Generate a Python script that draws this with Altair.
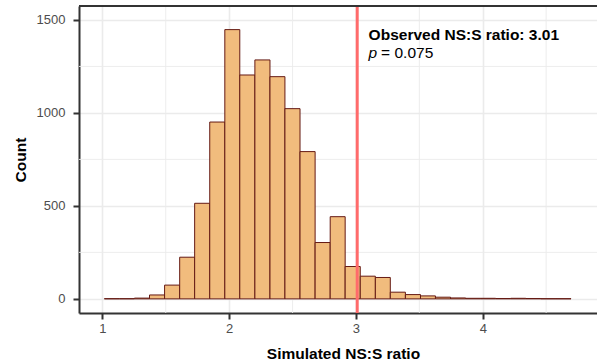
import altair as alt
import pandas as pd

# Histogram bins (edges) and counts
bin_left = [1.016, 1.135, 1.253, 1.372, 1.491, 1.610, 1.728, 1.847, 1.966, 2.084,
            2.203, 2.322, 2.440, 2.559, 2.678, 2.797, 2.915, 3.034, 3.153, 3.271,
            3.390, 3.509, 3.627, 3.746, 3.865, 3.984, 4.102, 4.221, 4.340, 4.458,
            4.577]
bin_right = [1.135, 1.253, 1.372, 1.491, 1.610, 1.728, 1.847, 1.966, 2.084, 2.203,
             2.322, 2.440, 2.559, 2.678, 2.797, 2.915, 3.034, 3.153, 3.271, 3.390,
             3.509, 3.627, 3.746, 3.865, 3.984, 4.102, 4.221, 4.340, 4.458, 4.577,
             4.696]
counts = [1, 1, 4, 21, 74, 224, 514, 951, 1448, 1204,
          1285, 1195, 1023, 792, 303, 442, 174, 122, 115, 36,
          23, 16, 9, 5, 3, 3, 2, 3, 2, 1,
          1]

observed = 3.01
p_value = "0.075"
x_ticks = [1, 2, 3, 4]
y_ticks = [0, 500, 1000, 1500]
x_minor = [1.5, 2.5, 3.5, 4.5]
y_minor = [250, 750, 1250]

W, H = 518, 307
FONT = "Liberation Sans"
x_scale = alt.Scale(domain=[0.816, 4.901], nice=False, zero=False)
y_scale = alt.Scale(domain=[-76, 1575], nice=False, zero=False)

hist = pd.DataFrame({"x": bin_left, "x2": bin_right, "y2": counts, "y": [0] * len(counts)})

x_axis = alt.Axis(values=x_ticks, format="d", title="Simulated NS:S ratio",
                  grid=True, gridColor="#EBEBEB", gridWidth=1.6,
                  domainColor="#333333", domainWidth=2,
                  tickColor="#333333", tickWidth=2, tickSize=6,
                  labelColor="#4D4D4D", labelFontSize=13, labelFont=FONT, labelPadding=3,
                  titleFont=FONT, titleFontSize=15.5, titleFontWeight="bold", titleColor="#000000",
                  titleX=264, titleY=45, titleBaseline="alphabetic", titleAnchor="middle")
y_axis = alt.Axis(values=y_ticks, format="d", title="Count",
                  grid=True, gridColor="#EBEBEB", gridWidth=1.6,
                  domainColor="#333333", domainWidth=2,
                  tickColor="#333333", tickWidth=2, tickSize=6,
                  labelColor="#4D4D4D", labelFontSize=13, labelFont=FONT, labelPadding=8,
                  titleFont=FONT, titleFontSize=15.5, titleFontWeight="bold", titleColor="#000000",
                  titleX=-59, titleY=H / 2, titleAngle=-90, titleAlign="center",
                  titleBaseline="middle")

X = alt.X("x:Q", scale=x_scale, axis=x_axis)
Y = alt.Y("y:Q", scale=y_scale, axis=y_axis)

grid_x = alt.Chart(pd.DataFrame({"x": x_minor})).mark_rule(
    color="#EBEBEB", strokeWidth=0.9).encode(x=X)
grid_y = alt.Chart(pd.DataFrame({"y": y_minor})).mark_rule(
    color="#EBEBEB", strokeWidth=0.9).encode(y=Y)

bars = alt.Chart(hist).mark_rect(
    fill="#F1BC7D", stroke="#651A14", strokeWidth=1).encode(
    x=X, x2="x2:Q", y=Y, y2="y2:Q")

vline = alt.Chart(pd.DataFrame({"x": [observed]})).mark_rule(
    color="#FF6B6B", strokeWidth=3).encode(x=X)

top_line = alt.Chart(pd.DataFrame({"a": [0]})).mark_rule(
    color="#333333", strokeWidth=2).encode(
    x=alt.value(0), x2=alt.value(W), y=alt.value(0))

ann = pd.DataFrame({"x": [3.1], "y": [1392],
                    "t1": [f"Observed NS:S ratio: {observed:.2f}"],
                    "tp": ["p"], "t2": [f"= {p_value}"]})
t1 = alt.Chart(ann).mark_text(align="left", baseline="alphabetic", font=FONT,
                              fontSize=15.5, fontWeight="bold", color="#000000").encode(
    x=X, y=Y, text="t1:N")
tp = alt.Chart(ann).mark_text(align="left", baseline="alphabetic", font=FONT,
                              fontSize=15.5, fontStyle="italic", color="#000000", dy=18).encode(
    x=X, y=Y, text="tp:N")
t2 = alt.Chart(ann).mark_text(align="left", baseline="alphabetic", font=FONT,
                              fontSize=15.5, color="#000000", dy=18, dx=12.5).encode(
    x=X, y=Y, text="t2:N")

chart = alt.layer(grid_x, grid_y, bars, vline, top_line, t1, tp, t2).properties(
    width=W, height=H,
    autosize=alt.AutoSizeParams(type="none"),
    padding={"left": 79, "top": 6, "right": 0, "bottom": 49},
    background="#FFFFFF",
).configure_view(stroke="transparent")

chart.save("out.html", embed_options={"renderer": "svg", "actions": False})
